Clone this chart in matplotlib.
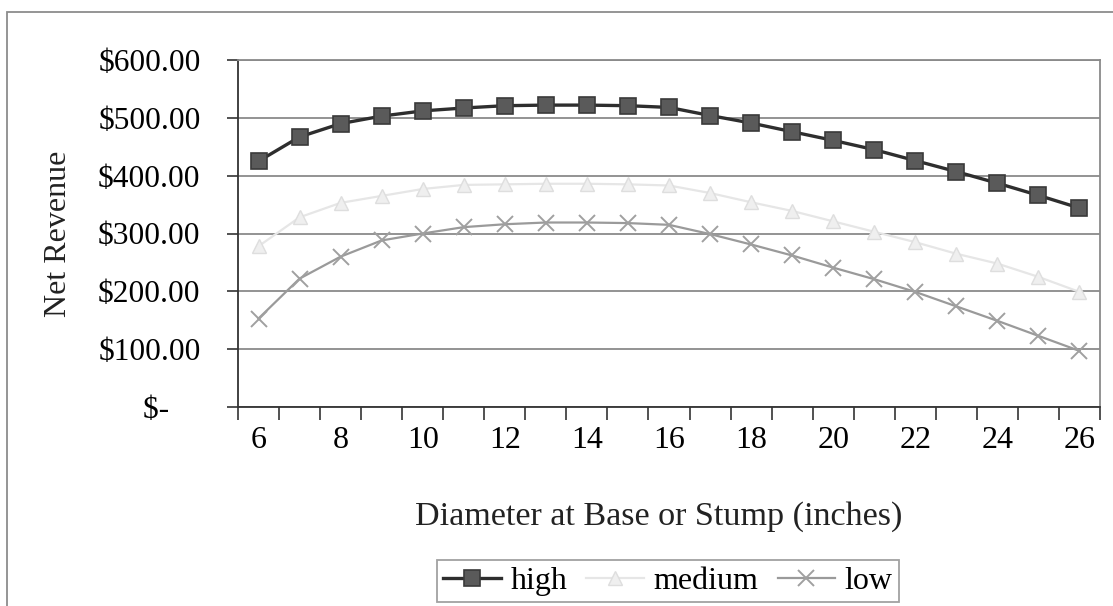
import matplotlib
matplotlib.use("Agg")
import matplotlib.pyplot as plt
from matplotlib.patches import Rectangle
from matplotlib.ticker import FixedLocator, FuncFormatter

# Net revenue by stump diameter for three price scenarios
diameters = list(range(6, 27))
high = [425, 467, 490, 503, 512, 517, 521, 522, 522, 521, 518,
        504, 491, 476, 461, 445, 426, 407, 387, 366, 344]
medium = [278, 328, 353, 365, 377, 384, 385, 386, 386, 385, 383,
          370, 354, 339, 321, 303, 285, 265, 248, 225, 199]
low = [153, 222, 260, 288, 300, 311, 316, 319, 319, 318, 315,
       299, 281, 262, 241, 221, 199, 174, 149, 123, 97]
y_ticks = [0, 100, 200, 300, 400, 500, 600]
x_tick_labels = list(range(6, 27, 2))

plt.rcParams['font.family'] = ['Liberation Serif', 'DejaVu Serif']
plt.rcParams['font.size'] = 22

W, H = 1113, 606
fig = plt.figure(figsize=(W / 100, H / 100), dpi=100)

left, right, top, bottom = 238, 1100, 60, 407
ax = fig.add_axes([left / W, 1 - bottom / H, (right - left) / W, (bottom - top) / H])

# outer chart frame
fig.patches.append(Rectangle((7 / W, -0.1), 1.2, 1 - 12 / H + 0.1,
                             transform=fig.transFigure, fill=False,
                             edgecolor='#8c8c8c', linewidth=1.3, zorder=0))

ax.plot(diameters, high, color='#2e2e2e', linewidth=2.4, marker='s',
        markersize=11, markerfacecolor='#5a5a5a', markeredgecolor='#3a3a3a',
        markeredgewidth=1.2, label='high', zorder=5)
ax.plot(diameters, medium, color='#e6e6e6', linewidth=1.6, marker='^',
        markersize=10, markerfacecolor='#efefef', markeredgecolor='#dedede',
        label='medium', zorder=4)
ax.plot(diameters, low, color='#9a9a9a', linewidth=1.6, marker='x',
        markersize=12, markeredgecolor='#a0a0a0', markeredgewidth=1.4,
        label='low', zorder=4)

ax.set_xlim(5.5, 26.5)
ax.set_ylim(0, 600)

# category boundaries carry the tick marks, even diameters carry the labels
ax.xaxis.set_minor_locator(FixedLocator([d + 0.5 for d in range(5, 27)]))
ax.xaxis.set_major_locator(FixedLocator(x_tick_labels))
ax.tick_params(axis='x', which='major', length=0, pad=14, labelsize=23)
ax.tick_params(axis='x', which='minor', length=9, width=1.2, direction='out',
               color='#333333')

ax.set_yticks(y_ticks)
ax.yaxis.set_major_formatter(FuncFormatter(
    lambda v, p: "$-    " if v == 0 else f"${v:,.2f}"))
ax.tick_params(axis='y', length=8, width=1.2, direction='out', pad=19,
               labelsize=22.6, color='#333333')

ax.grid(axis='y', color='#8a8a8a', linewidth=1.3)
ax.set_axisbelow(True)

for side in ('left', 'bottom'):
    ax.spines[side].set_color('#333333')
    ax.spines[side].set_linewidth(1.3)
for side in ('top', 'right'):
    ax.spines[side].set_color('#8a8a8a')
    ax.spines[side].set_linewidth(1.3)

fig.text(58 / W, 1 - 234 / H, 'Net Revenue', rotation=90, ha='center',
         va='center', fontsize=23, color='#222222')
fig.text(659 / W, 1 - 517 / H, 'Diameter at Base or Stump (inches)',
         ha='center', va='center', fontsize=24.6, color='#222222')

leg = fig.legend(loc='center', bbox_to_anchor=(668 / W, 1 - 581 / H), ncol=3,
                 frameon=True, fancybox=False, fontsize=23, handlelength=1.8,
                 handletextpad=0.3, columnspacing=0.6, numpoints=1,
                 borderpad=0.2, borderaxespad=0)
leg.get_frame().set_edgecolor('#8a8a8a')
leg.get_frame().set_linewidth(1.3)

fig.savefig('out.png', dpi=100)
